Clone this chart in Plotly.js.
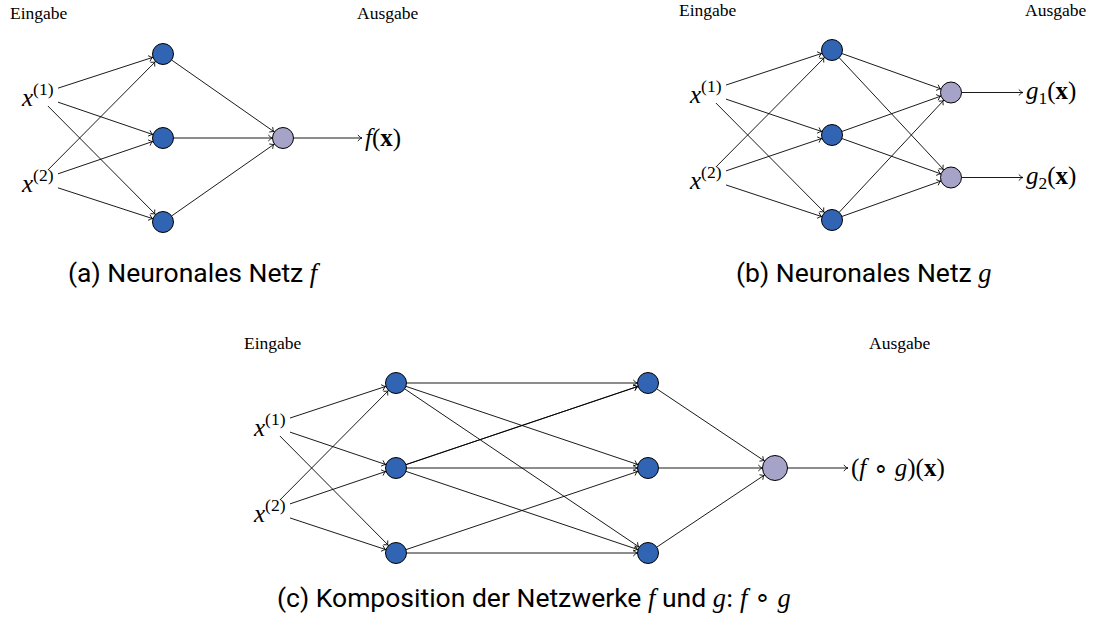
<!DOCTYPE html>
<html><head><meta charset="utf-8">
<script src="https://cdn.plot.ly/plotly-3.0.1.min.js"></script>
<style>html,body{margin:0;padding:0;background:#fff}</style>
</head><body><div id="chart" style="width:1093px;height:623px"></div>
<script>
// ---------------- data ----------------
const layersF  = [2, 3, 1];        // network f: inputs, hidden, output
const layersG  = [2, 3, 2];        // network g
const layersFG = [2, 3, 3, 1];     // composition f o g
// connections between the two middle layers of f o g, as drawn in the figure
// (the link 2->1 appears twice, the link 3->1 is absent)
const linksFGmid = [[0, 0], [0, 1], [0, 2], [1, 0], [1, 0], [1, 1], [1, 2], [2, 1], [2, 2]];
const inputLabels = ['<i>x</i><sup>(1)</sup>', '<i>x</i><sup>(2)</sup>'];
const outputsF  = ['<i>f</i>(<b>x</b>)'];
const outputsG  = ['<i>g</i><sub>1</sub>(<b>x</b>)', '<i>g</i><sub>2</sub>(<b>x</b>)'];
const outputsFG = ['(<i>f</i> ∘ <i>g</i>)(<b>x</b>)'];
const headerLabels = ['Eingabe', 'Ausgabe'];
const captions = [
  '(a) Neuronales Netz <span style="font-family:Liberation Serif"><i>f</i></span>',
  '(b) Neuronales Netz <span style="font-family:Liberation Serif"><i>g</i></span>',
  '(c) Komposition der Netzwerke <span style="font-family:Liberation Serif"><i>f</i></span> und <span style="font-family:Liberation Serif"><i>g</i>:</span> <span style="font-family:Liberation Serif"><i>f</i> ∘ <i>g</i></span>'
];

// ---------------- layout / style ----------------
const MATH = '"Liberation Serif", serif';
const BLUE = '#3264b4', PURPLE = '#a6a3c9';
const panels = [
  {layers: layersF,  links: {}, outputs: outputsF,  caption: captions[0], layerX: [37, 163, 283], cy: 138, gap: 84, inGap: 86,
   outEnd: 362, headers: [[8, 13], [355, 13]], cap: [194, 272], r: 10.5, rOut: 10.5},
  {layers: layersG,  links: {}, outputs: outputsG,  caption: captions[1], layerX: [705, 832, 951], cy: 135, gap: 85, inGap: 86,
   outEnd: 1023, headers: [[677, 10], [1023, 10]], cap: [864, 272], r: 10.5, rOut: 10.5},
  {layers: layersFG, links: {1: linksFGmid}, outputs: outputsFG, caption: captions[2], layerX: [269, 396, 648, 775], cy: 468, gap: 85, inGap: 86,
   outEnd: 848, headers: [[242, 343], [867, 343]], cap: [534, 597], r: 10.5, rOut: 12.5}
];
const LBL_HW = 21, LBL_HH = 11;
const HEAD_LEN = 4.2, HEAD_HALF = 3.0;

function boxExit(cx, cy, tx, ty, hw, hh) {
  const dx = tx - cx, dy = ty - cy;
  const t = Math.min(hw / Math.max(Math.abs(dx), 1e-9), hh / Math.max(Math.abs(dy), 1e-9));
  return [cx + dx * t, cy + dy * t];
}

const traces = [];
const annotations = [];
const lineX = [], lineY = [], headX = [], headY = [];

// edge from (x0,y0) to (x1,y1), trimmed by s0 at start and s1 at end, with an open arrowhead
function addEdge(x0, y0, x1, y1, s0, s1) {
  const d = Math.hypot(x1 - x0, y1 - y0), ux = (x1 - x0) / d, uy = (y1 - y0) / d;
  const sx = x0 + ux * s0, sy = y0 + uy * s0, ex = x1 - ux * s1, ey = y1 - uy * s1;
  lineX.push(sx, ex, null); lineY.push(sy, ey, null);
  const nx = -uy, ny = ux;
  const bx = ex - ux * HEAD_LEN, by = ey - uy * HEAD_LEN;
  headX.push(bx + nx * HEAD_HALF, ex - ux * 1.2, ex, ex - ux * 1.2, bx - nx * HEAD_HALF, null);
  headY.push(by + ny * HEAD_HALF, ey - uy * 1.2 + ny * 0.35, ey, ey - uy * 1.2 - ny * 0.35, by - ny * HEAD_HALF, null);
}

panels.forEach(p => {
  const L = p.layers.length;
  const pos = p.layers.map((n, l) => {
    const g = (l === 0) ? p.inGap : p.gap;
    const ys = [];
    for (let i = 0; i < n; i++) ys.push(p.cy + (i - (n - 1) / 2) * g);
    return ys;
  });
  const rad = l => (l === L - 1 ? p.rOut : p.r);

  // edges
  for (let l = 0; l < L - 1; l++) {
    let links = p.links[l];
    if (!links) {
      links = [];
      pos[l].forEach((_, i) => pos[l + 1].forEach((__, j) => links.push([i, j])));
    }
    links.forEach(([i, j]) => {
      const xs = p.layerX[l], ys = pos[l][i], xt = p.layerX[l + 1], yt = pos[l + 1][j];
      if (l === 0) {
        const [ax, ay] = boxExit(xs, ys, xt, yt, LBL_HW, LBL_HH);
        addEdge(ax, ay, xt, yt, 0, rad(l + 1));
      } else {
        addEdge(xs, ys, xt, yt, rad(l), rad(l + 1));
      }
    });
  }
  // output arrows and labels
  pos[L - 1].forEach((y, i) => {
    addEdge(p.layerX[L - 1], y, p.outEnd, y, rad(L - 1), 0);
    annotations.push({x: p.outEnd + 1, y: y, xref: 'x', yref: 'y', text: p.outputs[i], showarrow: false,
      xanchor: 'left', yanchor: 'middle', font: {family: MATH, size: 25, color: '#000'}});
  });
  // input labels
  pos[0].forEach((y, i) => {
    annotations.push({x: p.layerX[0], y: y, xref: 'x', yref: 'y', text: inputLabels[i], showarrow: false,
      xanchor: 'center', yanchor: 'middle', font: {family: MATH, size: 25, color: '#000'}});
  });
  // nodes
  for (let l = 1; l < L; l++) {
    traces.push({type: 'scatter', mode: 'markers', hoverinfo: 'skip',
      x: pos[l].map(() => p.layerX[l]), y: pos[l],
      marker: {size: 2 * rad(l), color: l === L - 1 ? PURPLE : BLUE, line: {color: '#000', width: 1}}});
  }
  // headers
  p.headers.forEach((h, i) => {
    annotations.push({x: h[0], y: h[1], xref: 'x', yref: 'y', text: headerLabels[i], showarrow: false,
      xanchor: 'left', yanchor: 'middle', font: {family: MATH, size: 17.5, color: '#000'}});
  });
  // caption
  annotations.push({x: p.cap[0], y: p.cap[1], xref: 'x', yref: 'y', text: p.caption, showarrow: false,
    xanchor: 'center', yanchor: 'middle', font: {family: 'Roboto', size: 26.5, color: '#000'}});
});

traces.unshift(
  {type: 'scatter', mode: 'lines', hoverinfo: 'skip', x: lineX, y: lineY,
   line: {color: '#000', width: 0.9}, connectgaps: false},
  {type: 'scatter', mode: 'lines', hoverinfo: 'skip', x: headX, y: headY,
   line: {color: '#000', width: 0.9, shape: 'spline', smoothing: 0.6}, connectgaps: false}
);

const layout = {
  width: 1093, height: 623, margin: {l: 0, r: 0, t: 0, b: 0},
  paper_bgcolor: '#fff', plot_bgcolor: '#fff', showlegend: false,
  xaxis: {range: [0, 1093], visible: false, fixedrange: true},
  yaxis: {range: [623, 0], visible: false, fixedrange: true},
  annotations: annotations
};
Plotly.newPlot('chart', traces, layout, {staticPlot: true, displayModeBar: false});
</script>
</body></html>
